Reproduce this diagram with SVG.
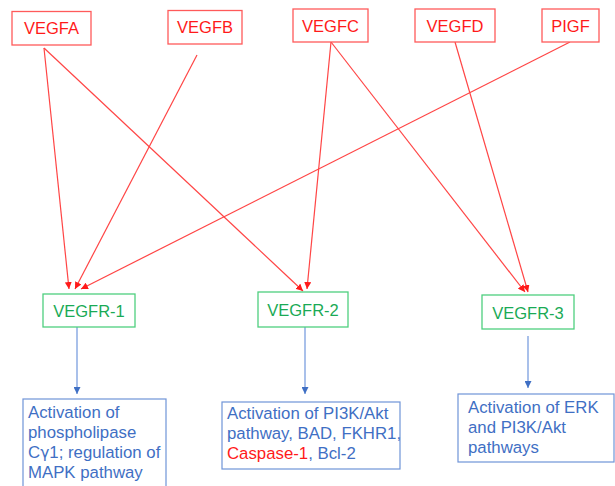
<svg xmlns="http://www.w3.org/2000/svg" width="615" height="486" viewBox="0 0 615 486">
<defs>
<style>
.src rect{fill:#fff;stroke:#ff5a5a;stroke-width:1.3}
.src text{fill:#ff1a1a;font-family:"Liberation Sans",Arial,sans-serif;font-size:16.5px;text-anchor:middle}
.rec rect{fill:#fff;stroke:#4fcf7f;stroke-width:1.3}
.rec text{fill:#1aaa55;font-family:"Liberation Sans",Arial,sans-serif;font-size:16.5px;text-anchor:middle}
.out rect{fill:#fff;stroke:#6f94d8;stroke-width:1.2}
.out text{fill:#3f6fc4;font-family:"Liberation Sans",Arial,sans-serif;font-size:16.8px}
.red{stroke:#ff4545;stroke-width:1.2;fill:none}
.blue{stroke:#7096dc;stroke-width:1.2;fill:none}
</style>
<marker id="ar" viewBox="0 0 10 10" refX="10" refY="5" markerWidth="7" markerHeight="7" markerUnits="userSpaceOnUse" orient="auto"><path d="M0,0L10,5L0,10z" fill="#ff1a1a"/></marker>
<marker id="ab" viewBox="0 0 10 10" refX="10" refY="5" markerWidth="7" markerHeight="7" markerUnits="userSpaceOnUse" orient="auto"><path d="M0,0L10,5L0,10z" fill="#3f6fc4"/></marker>
</defs>
<rect width="615" height="486" fill="#fff"/>
<g id="connectors">
<line class="red" x1="44" y1="48" x2="69" y2="289" marker-end="url(#ar)"/>
<line class="red" x1="44" y1="48" x2="303" y2="291" marker-end="url(#ar)"/>
<line class="red" x1="197" y1="55" x2="75" y2="289" marker-end="url(#ar)"/>
<line class="red" x1="331" y1="42" x2="307" y2="289" marker-end="url(#ar)"/>
<line class="red" x1="331" y1="42" x2="525" y2="292" marker-end="url(#ar)"/>
<line class="red" x1="455" y1="42" x2="528" y2="292" marker-end="url(#ar)"/>
<line class="red" x1="570" y1="42" x2="81" y2="289" marker-end="url(#ar)"/>
<line class="blue" x1="77" y1="327" x2="77" y2="394" marker-end="url(#ab)"/>
<line class="blue" x1="305" y1="327" x2="305" y2="394" marker-end="url(#ab)"/>
<line class="blue" x1="528" y1="336" x2="528" y2="388" marker-end="url(#ab)"/>
</g>
<g id="VEGFA" class="src"><rect x="12" y="11.5" width="79" height="33.5"/><text x="51.5" y="34">VEGFA</text></g>
<g id="VEGFB" class="src"><rect x="168" y="10.5" width="74" height="33.5"/><text x="205" y="33">VEGFB</text></g>
<g id="VEGFC" class="src"><rect x="293" y="9" width="75" height="33"/><text x="330.5" y="31.5">VEGFC</text></g>
<g id="VEGFD" class="src"><rect x="415" y="9" width="80" height="33"/><text x="455" y="31.5">VEGFD</text></g>
<g id="PIGF" class="src"><rect x="542" y="9" width="57" height="33"/><text x="570.5" y="31.5">PIGF</text></g>
<g id="VEGFR-1" class="rec"><rect x="43" y="294" width="92" height="33"/><text x="89" y="317">VEGFR-1</text></g>
<g id="VEGFR-2" class="rec"><rect x="258" y="292" width="90" height="35"/><text x="303" y="316">VEGFR-2</text></g>
<g id="VEGFR-3" class="rec"><rect x="482" y="295" width="92" height="34"/><text x="528" y="318.5">VEGFR-3</text></g>
<g id="out1" class="out"><rect x="23" y="399" width="143" height="92"/>
<text x="28" y="418">Activation of</text>
<text x="28" y="438">phospholipase</text>
<text x="28" y="458">C<tspan font-family="'DejaVu Sans',sans-serif" font-size="15.5">γ</tspan>1; regulation of</text>
<text x="28" y="478">MAPK pathway</text></g>
<g id="out2" class="out"><rect x="222" y="402" width="178" height="67"/>
<text x="227" y="419">Activation of PI3K/Akt</text>
<text x="227" y="439">pathway, BAD, FKHR1,</text>
<text x="227" y="459"><tspan fill="#ff1a1a">Caspase-1</tspan>, Bcl-2</text></g>
<g id="out3" class="out"><rect x="458" y="394" width="156" height="68"/>
<text x="468" y="413">Activation of ERK</text>
<text x="468" y="433">and PI3K/Akt</text>
<text x="468" y="453">pathways</text></g>
</svg>
